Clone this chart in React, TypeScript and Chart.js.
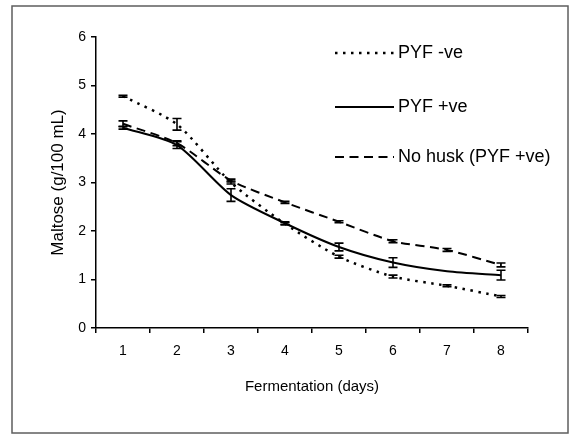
import React, { useEffect, useRef } from "react";
import { Chart, registerables } from "chart.js";

Chart.register(...registerables);

const days = ["1", "2", "3", "4", "5", "6", "7", "8"];
const pyfNeg = [4.78, 4.2, 3.0, 2.15, 1.47, 1.06, 0.87, 0.65];
const pyfNegErr = [0.02, 0.12, 0.03, 0.02, 0.03, 0.03, 0.02, 0.02];
const pyfPos = [4.13, 3.77, 2.74, 2.16, 1.67, 1.35, 1.17, 1.09];
const pyfPosErr = [0.03, 0.07, 0.13, 0.03, 0.08, 0.1, 0, 0.1];
const noHusk = [4.21, 3.81, 3.04, 2.59, 2.19, 1.79, 1.61, 1.3];
const noHuskErr = [0.06, 0.05, 0.03, 0.02, 0.02, 0.03, 0.03, 0.04];
const seriesLabels = ["PYF -ve", "PYF +ve", "No husk (PYF +ve)"];
const yTicks = [0, 1, 2, 3, 4, 5, 6];

const FONT = "'Liberation Sans', Arial, sans-serif";

const framePlugin = {
  id: "frame",
  beforeDraw(chart: any) {
    const ctx = chart.ctx;
    ctx.save();
    ctx.fillStyle = "#ffffff";
    ctx.fillRect(0, 0, chart.width, chart.height);
    ctx.strokeStyle = "#5e5e5e";
    ctx.lineWidth = 1.5;
    ctx.strokeRect(12, 6, 556, 427);
    ctx.restore();
  },
};

const errorBarPlugin = {
  id: "errorBars",
  afterDatasetsDraw(chart: any) {
    const ctx = chart.ctx;
    const yScale = chart.scales.y;
    ctx.save();
    ctx.strokeStyle = "#000";
    ctx.lineWidth = 1.6;
    chart.data.datasets.forEach((ds: any, di: number) => {
      const meta = chart.getDatasetMeta(di);
      const errs: number[] = ds.errors || [];
      meta.data.forEach((pt: any, i: number) => {
        const e = errs[i];
        if (!e) return;
        const v = ds.data[i];
        const x = pt.x;
        const yTop = yScale.getPixelForValue(v + e);
        const yBot = yScale.getPixelForValue(v - e);
        const hw = 4.5;
        ctx.beginPath();
        ctx.moveTo(x, yTop);
        ctx.lineTo(x, yBot);
        ctx.moveTo(x - hw, yTop);
        ctx.lineTo(x + hw, yTop);
        ctx.moveTo(x - hw, yBot);
        ctx.lineTo(x + hw, yBot);
        ctx.stroke();
      });
    });
    ctx.restore();
  },
};

const legendPlugin = {
  id: "customLegend",
  afterDraw(chart: any) {
    const ctx = chart.ctx;
    const rows = [53, 107, 157];
    ctx.save();
    ctx.font = `18px ${FONT}`;
    ctx.fillStyle = "#000";
    ctx.textBaseline = "middle";
    ctx.textAlign = "left";
    chart.data.datasets.forEach((ds: any, i: number) => {
      const y = rows[i];
      ctx.beginPath();
      ctx.strokeStyle = "#000";
      ctx.lineWidth = ds.borderWidth;
      ctx.setLineDash(ds.borderDash || []);
      ctx.moveTo(335, y);
      ctx.lineTo(394, y);
      ctx.stroke();
      ctx.setLineDash([]);
      ctx.fillText(ds.label, 398, y);
    });
    ctx.restore();
  },
};

export default function App() {
  const ref = useRef<HTMLCanvasElement | null>(null);

  useEffect(() => {
    if (!ref.current) return;
    const chart = new Chart(ref.current, {
      type: "line",
      data: {
        labels: days,
        datasets: [
          {
            label: seriesLabels[0],
            data: pyfNeg,
            errors: pyfNegErr,
            borderColor: "#000",
            borderWidth: 2.5,
            borderDash: [2.5, 5.5],
            pointRadius: 0,
            tension: 0.25,
            fill: false,
          } as any,
          {
            label: seriesLabels[1],
            data: pyfPos,
            errors: pyfPosErr,
            borderColor: "#000",
            borderWidth: 2,
            pointRadius: 0,
            tension: 0.25,
            fill: false,
          } as any,
          {
            label: seriesLabels[2],
            data: noHusk,
            errors: noHuskErr,
            borderColor: "#000",
            borderWidth: 2,
            borderDash: [9, 5.5],
            pointRadius: 0,
            tension: 0.25,
            fill: false,
          } as any,
        ],
      },
      options: {
        animation: false,
        responsive: false,
        maintainAspectRatio: false,
        devicePixelRatio: 1,
        layout: { padding: { top: 37, right: 42, bottom: 0, left: 0 } },
        plugins: {
          legend: { display: false },
          tooltip: { enabled: false },
        },
        scales: {
          x: {
            type: "category",
            offset: true,
            grid: {
              display: true,
              drawOnChartArea: false,
              drawTicks: true,
              tickLength: 5,
              color: "#000",
              lineWidth: 1.5,
              offset: true,
            },
            border: { display: true, color: "#000", width: 1.5 },
            ticks: {
              color: "#000",
              font: { family: FONT, size: 14 },
              padding: 10,
              maxRotation: 0,
            },
            title: {
              display: true,
              text: "Fermentation (days)",
              color: "#000",
              font: { family: FONT, size: 15 },
              padding: { top: 0, bottom: 39 },
            },
            afterFit(scale: any) {
              scale.height = 107;
            },
          },
          y: {
            min: 0,
            max: 6,
            afterBuildTicks(scale: any) {
              scale.ticks = yTicks.map((v) => ({ value: v }));
            },
            grid: {
              display: true,
              drawOnChartArea: false,
              drawTicks: true,
              tickLength: 5,
              color: "#000",
              lineWidth: 1.5,
            },
            border: { display: true, color: "#000", width: 1.5 },
            ticks: {
              color: "#000",
              font: { family: FONT, size: 14 },
              padding: 5,
            },
            title: {
              display: true,
              text: "Maltose (g/100 mL)",
              color: "#000",
              font: { family: FONT, size: 17 },
              padding: { top: 48, bottom: 0 },
            },
            afterFit(scale: any) {
              scale.width = 96;
            },
          },
        },
      },
      plugins: [framePlugin, errorBarPlugin, legendPlugin],
    });
    return () => chart.destroy();
  }, []);

  return (
    <canvas
      ref={ref}
      width={570}
      height={435}
      style={{ position: "absolute", left: 0, top: 0, width: 570, height: 435 }}
    />
  );
}
